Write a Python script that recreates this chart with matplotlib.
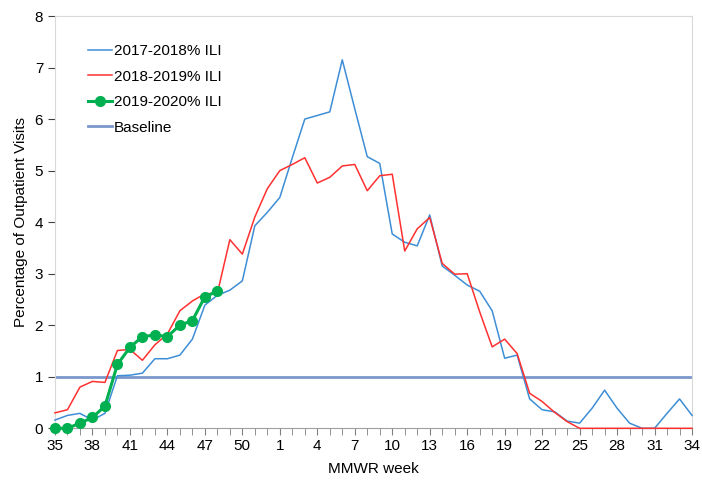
import matplotlib
matplotlib.use("Agg")
import matplotlib.pyplot as plt

plt.rcParams['font.family'] = ['Liberation Sans', 'DejaVu Sans']

weeks = list(range(35, 53)) + list(range(1, 35))
tick_labels = ["35", "38", "41", "44", "47", "50", "1", "4", "7", "10", "13",
               "16", "19", "22", "25", "28", "31", "34"]

ili_2017_2018 = [0.16, 0.25, 0.29, 0.16, 0.29, 1.02, 1.03, 1.07, 1.35, 1.35,
                 1.42, 1.73, 2.39, 2.58, 2.68, 2.86, 3.93, 4.19, 4.48, 5.25,
                 6.00, 6.07, 6.14, 7.15, 6.20, 5.27, 5.14, 3.77, 3.61, 3.54,
                 4.14, 3.15, 2.97, 2.78, 2.66, 2.28, 1.36, 1.42, 0.57, 0.36,
                 0.32, 0.14, 0.10, 0.39, 0.74, 0.39, 0.10, 0.00, 0.00, 0.29,
                 0.57, 0.25]
ili_2018_2019 = [0.30, 0.36, 0.80, 0.91, 0.89, 1.51, 1.53, 1.32, 1.62, 1.83,
                 2.28, 2.47, 2.61, 2.62, 3.66, 3.38, 4.10, 4.65, 5.00, 5.12,
                 5.25, 4.76, 4.87, 5.09, 5.12, 4.61, 4.90, 4.93, 3.44, 3.87,
                 4.09, 3.20, 2.99, 3.00, 2.26, 1.58, 1.73, 1.45, 0.68, 0.52,
                 0.31, 0.13, 0.00, 0.00, 0.00, 0.00, 0.00, 0.00, 0.00, 0.00,
                 0.00, 0.00]
ili_2019_2020 = [0.00, 0.00, 0.10, 0.21, 0.43, 1.24, 1.57, 1.78, 1.81, 1.78,
                 2.00, 2.09, 2.55, 2.66]
baseline = 1.0

fig = plt.figure(figsize=(7.02, 4.82), dpi=100)
ax = fig.add_axes([0.0783, 0.1114, 0.9075, 0.8554])

x = list(range(len(weeks)))
ax.plot(x, ili_2017_2018, color='#3d8ed6', lw=1.1, label='2017-2018% ILI',
        zorder=3, clip_on=False)
ax.plot(x, ili_2018_2019, color='#ff3030', lw=1.1, label='2018-2019% ILI',
        zorder=3, clip_on=False)
ax.plot(x[:len(ili_2019_2020)], ili_2019_2020, color='#00b050', lw=2.2,
        marker='o', markersize=7, label='2019-2020% ILI', zorder=4, clip_on=False)
ax.axhline(baseline, color='#7a97cc', lw=2.0, label='Baseline', zorder=2)

ax.set_xlim(0, len(weeks) - 1)
ax.set_ylim(0, 8)
ax.set_xticks(x[::3])
ax.set_xticklabels(tick_labels)
ax.set_xticks(x, minor=True)
ax.set_yticks(range(0, 9))
ax.tick_params(axis='x', which='both', direction='out', length=5, color='#808080',
               labelsize=11, pad=3)
ax.tick_params(axis='y', direction='out', length=5, color='#404040', labelsize=11)

for s in ['top', 'right', 'left']:
    ax.spines[s].set_color('#d9d9d9')
ax.spines['bottom'].set_color('#a0a0a0')

ax.set_xlabel('MMWR week', fontsize=11, labelpad=6)
ax.set_ylabel('Percentage of Outpatient Visits', fontsize=11, labelpad=5)

leg = ax.legend(loc='upper left', bbox_to_anchor=(0.03, 0.965), frameon=False,
                fontsize=11, handlelength=1.6, handletextpad=0.1, labelspacing=0.75)

fig.savefig('out.png', dpi=100)
